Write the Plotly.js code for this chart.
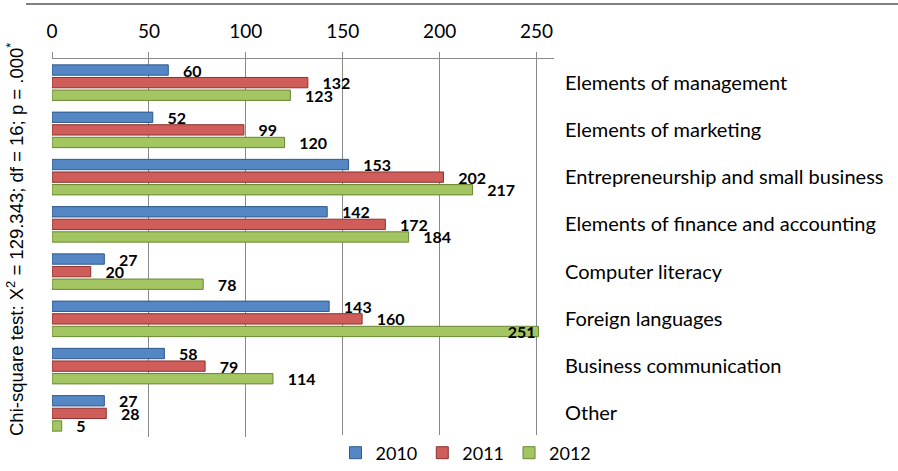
<!DOCTYPE html>
<html>
<head>
<meta charset="utf-8">
<script src="https://cdn.plot.ly/plotly-3.0.1.min.js"></script>
<style>html,body{margin:0;padding:0;background:#fff;}#chart{width:898px;height:471px;}</style>
</head>
<body>
<div id="chart"></div>
<script>
const categories = [
  "Elements of management",
  "Elements of marketing",
  "Entrepreneurship and small business",
  "Elements of finance and accounting",
  "Computer literacy",
  "Foreign languages",
  "Business communication",
  "Other"
];
const years = ["2010", "2011", "2012"];
const values2010 = [60, 52, 153, 142, 27, 143, 58, 27];
const values2011 = [132, 99, 202, 172, 20, 160, 79, 28];
const values2012 = [123, 120, 217, 184, 78, 251, 114, 5];
const xTicks = [0, 50, 100, 150, 200, 250];
const yTitle = "Chi-square test: X<sup>2</sup> = 129.343; df = 16; p = .000<sup>*</sup>";

const fills = ["#5487C4", "#CF5D5A", "#A3C562"];
const edges = ["#2F5A8C", "#8C3230", "#6A8634"];
const series = [values2010, values2011, values2012];
const FONT = "Lato, 'Liberation Sans', sans-serif";
const XMAX = 259;

const labelFont = {family: FONT, size: 16, color: "#000", weight: "bold"};
const traces = series.map((vals, i) => ({
  type: "bar",
  orientation: "h",
  name: years[i],
  y: categories,
  x: vals,
  marker: {color: fills[i], line: {color: edges[i], width: 1}},
  texttemplate: "\u00a0\u00a0\u00a0%{x}",
  textposition: vals.map(v => (v > 240 ? "inside" : "outside")),
  insidetextanchor: "end",
  constraintext: "none",
  cliponaxis: false,
  textfont: labelFont,
  insidetextfont: labelFont,
  outsidetextfont: labelFont,
  hoverinfo: "x+name"
}));

const W = 898, H = 471, L = 52, R = 554, T = 59, B = 437;
const pw = R - L, ph = B - T;

const layout = {
  width: W, height: H,
  margin: {l: L, r: W - R, t: T, b: H - B, pad: 0, autoexpand: false},
  paper_bgcolor: "#fff", plot_bgcolor: "#fff",
  barmode: "group",
  bargap: 0.2,
  bargroupgap: 0.18,
  showlegend: true,
  legend: {
    orientation: "h", xref: "container", yref: "container",
    x: 466 / W, xanchor: "center",
    y: (H - 453) / H, yanchor: "middle",
    font: {family: FONT, size: 18, color: "#000"},
    itemwidth: 30, traceorder: "normal"
  },
  xaxis: {
    side: "top", range: [0, XMAX], tickvals: xTicks, ticktext: xTicks.map(String),
    automargin: false,
    showgrid: true, gridcolor: "#8a8a8a", gridwidth: 1,
    showline: true, linecolor: "#8a8a8a", linewidth: 1.5,
    ticks: "outside", ticklen: 6, tickcolor: "#8a8a8a",
    ticklabelstandoff: 6,
    zeroline: false,
    tickfont: {family: FONT, size: 19, color: "#000"}
  },
  yaxis: {
    type: "category", categoryarray: categories, categoryorder: "array",
    range: [7.5, -0.5], side: "right", automargin: false,
    showgrid: false, showline: false, ticks: "", zeroline: false,
    ticklabelstandoff: 10,
    tickfont: {family: FONT, size: 20, color: "#000"}
  },
  yaxis2: {
    overlaying: "y", side: "left", range: [7.5, -0.5], automargin: false,
    tickvals: [-0.5, 0.5, 1.5, 2.5, 3.5, 4.5, 5.5, 6.5, 7.5],
    showticklabels: false, ticks: "outside", ticklen: 7, tickcolor: "#8a8a8a",
    showline: true, linecolor: "#8a8a8a", linewidth: 1.5,
    showgrid: false, zeroline: false
  },
  annotations: [{
    text: yTitle, textangle: -90, showarrow: false,
    xref: "paper", yref: "paper",
    x: (15 - L) / pw, xanchor: "center",
    y: (B - 240) / ph, yanchor: "middle",
    font: {family: "'Liberation Sans', Arial, sans-serif", size: 18.5, color: "#000"}
  }],
  shapes: [{
    type: "line", xref: "paper", yref: "paper",
    x0: (26 - L) / pw, x1: (898 - L) / pw,
    y0: (B - 4) / ph, y1: (B - 4) / ph,
    line: {color: "#808080", width: 2}
  }]
};

Plotly.newPlot("chart", traces, layout, {displayModeBar: false, staticPlot: true});
</script>
</body>
</html>
